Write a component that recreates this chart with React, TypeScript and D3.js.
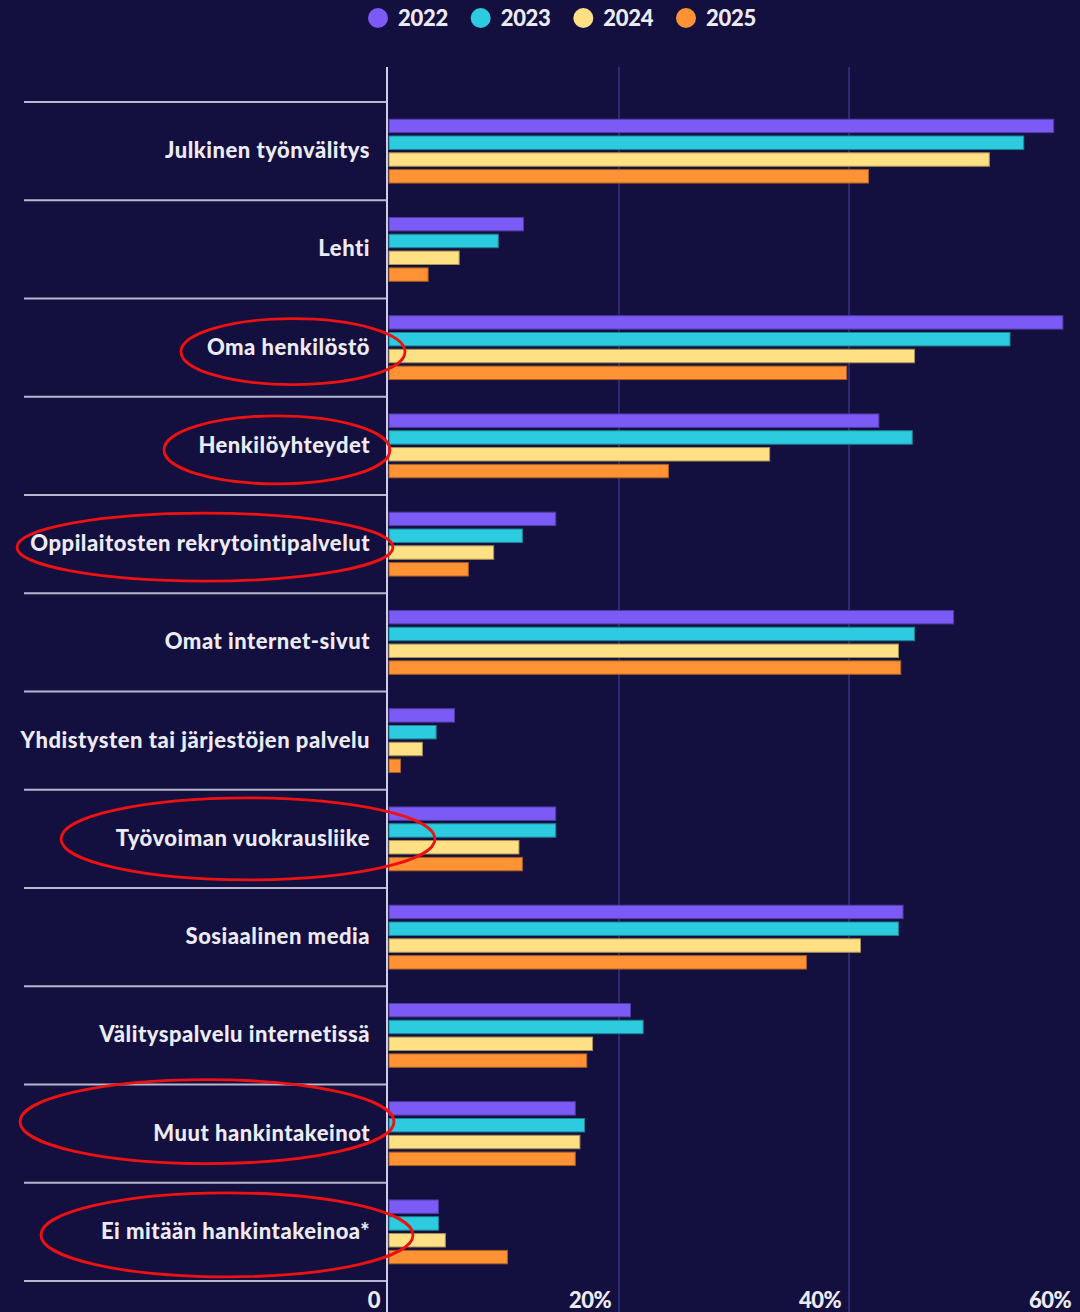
import { useMemo } from 'react';
import * as d3 from 'd3';

const CATEGORIES = [
  'Julkinen työnvälitys',
  'Lehti',
  'Oma henkilöstö',
  'Henkilöyhteydet',
  'Oppilaitosten rekrytointipalvelut',
  'Omat internet-sivut',
  'Yhdistysten tai järjestöjen palvelu',
  'Työvoiman vuokrausliike',
  'Sosiaalinen media',
  'Välityspalvelu internetissä',
  'Muut hankintakeinot',
  'Ei mitään hankintakeinoa*',
];

const YEARS = ['2022', '2023', '2024', '2025'];

const V2022 = [57.8, 11.7, 58.6, 42.6, 14.5, 49.1, 5.7, 14.5, 44.7, 21.0, 16.2, 4.3];
const V2023 = [55.2, 9.5, 54.0, 45.5, 11.6, 45.7, 4.1, 14.5, 44.3, 22.1, 17.0, 4.3];
const V2024 = [52.2, 6.1, 45.7, 33.1, 9.1, 44.3, 2.9, 11.3, 41.0, 17.7, 16.6, 4.9];
const V2025 = [41.7, 3.4, 39.8, 24.3, 6.9, 44.5, 1.0, 11.6, 36.3, 17.2, 16.2, 10.3];

const TICKS = [0, 20, 40, 60];

// categories whose labels are circled in red in the original
const CIRCLED = [
  'Oma henkilöstö',
  'Henkilöyhteydet',
  'Oppilaitosten rekrytointipalvelut',
  'Työvoiman vuokrausliike',
  'Muut hankintakeinot',
  'Ei mitään hankintakeinoa*',
];

const COLORS = ['#7b5af6', '#2ccbdf', '#ffe084', '#ff9234'];
const BG = '#130f3f';
const W = 1080;
const H = 1312;
const FONT = 'Lato, "Open Sans", sans-serif';

// ellipse geometry: centre x, offset from row centre, radii
const ELLIPSES: Record<string, { cx: number; dy: number; rx: number; ry: number }> = {
  'Oma henkilöstö': { cx: 293, dy: 4, rx: 112, ry: 33 },
  'Henkilöyhteydet': { cx: 277, dy: 4, rx: 113, ry: 34 },
  'Oppilaitosten rekrytointipalvelut': { cx: 205, dy: 3, rx: 188, ry: 34 },
  'Työvoiman vuokrausliike': { cx: 248, dy: 0, rx: 187, ry: 41 },
  'Muut hankintakeinot': { cx: 207, dy: -12, rx: 187, ry: 42 },
  'Ei mitään hankintakeinoa*': { cx: 227, dy: 3, rx: 186, ry: 42 },
};

export default function App() {
  const series = [V2022, V2023, V2024, V2025];

  const x = useMemo(() => d3.scaleLinear().domain([0, 60]).range([389, 1079]), []);
  const y = useMemo(
    () => d3.scaleBand<string>().domain(CATEGORIES).range([102, 1281]).padding(0),
    []
  );
  const inner = useMemo(() => {
    const bw = y.bandwidth();
    return d3.scaleBand<string>().domain(YEARS).range([bw * 0.175, bw * 0.825]).paddingInner(0.2);
  }, [y]);

  const legendX = d3.scalePoint<string>().domain(YEARS).range([378, 686]);

  return (
    <svg
      width={W}
      height={H}
      style={{ position: 'absolute', left: 0, top: 0, display: 'block', background: BG }}
      fontFamily={FONT}
    >
      <rect width={W} height={H} fill={BG} />

      {/* legend */}
      {YEARS.map((yr, i) => (
        <g key={yr} transform={`translate(${legendX(yr)},18)`}>
          <circle r={10} fill={COLORS[i]} />
          <text x={20} dy="0.36em" fill="#ecebf5" fontSize={22} fontWeight={900} letterSpacing={-0.3}>
            {yr}
          </text>
        </g>
      ))}

      {/* grid lines */}
      {TICKS.filter((t) => t > 0 && t < 60).map((t) => (
        <line key={t} x1={x(t)} x2={x(t)} y1={67} y2={H} stroke="#2f2872" strokeWidth={2} />
      ))}

      {/* row separators */}
      {[...CATEGORIES.map((c) => y(c)!), 1281].map((yy, i) => (
        <line key={i} x1={24} x2={386} y1={yy} y2={yy} stroke="#b9b7cf" strokeWidth={2} />
      ))}

      {/* bars */}
      {CATEGORIES.map((c, ci) => (
        <g key={c} transform={`translate(0,${y(c)})`}>
          {YEARS.map((yr, si) => (
            <rect
              key={yr}
              x={x(0)}
              y={inner(yr)}
              width={x(series[si][ci]) - x(0)}
              height={inner.bandwidth()}
              fill={COLORS[si]}
              stroke={d3.color(COLORS[si])!.darker(1.2).formatHex()}
              strokeWidth={1}
            />
          ))}
        </g>
      ))}

      {/* category labels */}
      {CATEGORIES.map((c) => (
        <text
          key={c}
          x={370}
          y={y(c)! + y.bandwidth() / 2 - 1}
          dy="0.36em"
          textAnchor="end"
          fill="#ecebf5"
          fontSize={22}
          fontWeight={900}
          letterSpacing={0.5}
        >
          {c}
        </text>
      ))}

      {/* y axis line */}
      <line x1={387} x2={387} y1={67} y2={H} stroke="#cfcde3" strokeWidth={2} />

      {/* x tick labels */}
      {TICKS.map((t) => (
        <text
          key={t}
          x={t === 0 ? 380 : x(t) - 8}
          y={1308}
          textAnchor="end"
          fill="#ecebf5"
          fontSize={22}
          fontWeight={900}
          letterSpacing={-0.6}
        >
          {t === 0 ? '0' : `${t}%`}
        </text>
      ))}

      {/* red annotation ellipses */}
      {CIRCLED.map((c) => {
        const e = ELLIPSES[c];
        return (
          <ellipse
            key={c}
            cx={e.cx}
            cy={y(c)! + y.bandwidth() / 2 + e.dy}
            rx={e.rx}
            ry={e.ry}
            fill="none"
            stroke="#ee1111"
            strokeWidth={2.8}
          />
        );
      })}
    </svg>
  );
}
